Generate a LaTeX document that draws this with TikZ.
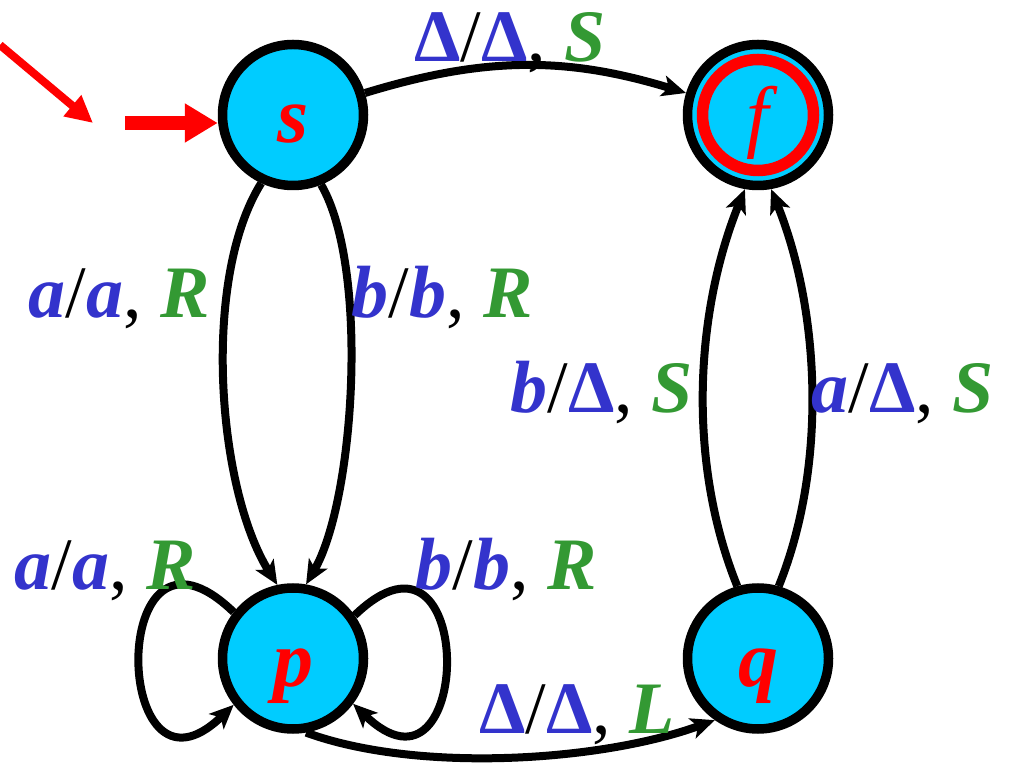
\documentclass[tikz,border=0pt]{standalone}
\usepackage{fontspec}
\setmainfont{Liberation Serif}
\usepackage{xcolor}
\usetikzlibrary{arrows.meta, positioning}
\definecolor{statefill}{RGB}{0, 204, 255}
\definecolor{symblue}{RGB}{51, 51, 204}
\definecolor{movegreen}{RGB}{51, 153, 51}
\newcommand{\tsym}[1]{\textcolor{symblue}{\bfseries\itshape #1}}
\newcommand{\tblank}{\textcolor{symblue}{\bfseries Δ}}
\newcommand{\tmove}[1]{\textcolor{movegreen}{\bfseries\itshape #1}}

\begin{document}
\begin{tikzpicture}[
  x=1pt, y=1pt,
  state/.style={circle, draw=black, line width=9.5pt, fill=statefill, minimum size=141pt, inner sep=0pt, text=red, font=\fontsize{80}{80}\selectfont\bfseries\itshape, text height=62pt, text depth=6pt},
  edge/.style={line width=8pt, -{Stealth[length=24pt, width=21pt, inset=6pt]}},
  lbl/.style={font=\fontsize{74}{80}\selectfont, anchor=base, inner sep=0pt},
  init/.style={red}
]
  \useasboundingbox (0,0) rectangle (1009,763);

  % Nodes
  \node[state] (s) at (293,648) {s};
  \node[state, right=314.5pt of s] (f) {\mdseries f};
  \node[state, below=393pt of s] (p) {p};
  \node[state, right=314.5pt of p] (q) {q};
  \draw[red, line width=11.5pt] (f.center) circle[radius=55.5pt];

  % Start arrows
  \coordinate (tail) at (0,718);
  \coordinate (head) at (93,640);
  \coordinate (init) at (125,640);
  \draw[init, line width=8pt, -{Triangle[length=27pt, width=26pt]}] (tail) -- (head);
  \draw[init, line width=14pt, -{Triangle[length=33pt, width=37pt]}] (init) -- (init -| s.west);

  % Paths
  \draw[edge] (s) to[bend left=17] (f);
  \draw[edge] (s.245) to[out=238, in=122, looseness=0.72] (p.102);
  \draw[edge] (s.292) to[out=300, in=60, looseness=0.62] (p.80);
  \draw[edge] (q.106) to[out=112, in=248, looseness=0.86] (f.260);
  \draw[edge] (q.74) to[out=68, in=292, looseness=0.84] (f.280);
  \draw[edge] (p.142) .. controls +(136:178) and +(224:170) .. (p.218);
  \draw[edge] (p.35) .. controls +(44:172) and +(316:168) .. (p.323);
  \draw[edge] (p.280) to[out=340, in=200, looseness=0.75] (q.235);

  % Labels
  \node[lbl] (lsf) at (510,701) {\tblank/\tblank, \tmove{S}};
  \node[lbl] (lsp1) at (119,445) {\tsym{a}/\tsym{a}, \tmove{R}};
  \node[lbl] (lsp2) at (442,445) {\tsym{b}/\tsym{b}, \tmove{R}};
  \node[lbl] (lqf1) at (602,350) {\tsym{b}/\tblank, \tmove{S}};
  \node[lbl] (lqf2) at (903,350) {\tsym{a}/\tblank, \tmove{S}};
  \node[lbl] (lpp1) at (105,173) {\tsym{a}/\tsym{a}, \tmove{R}};
  \node[lbl] (lpp2) at (506,173) {\tsym{b}/\tsym{b}, \tmove{R}};
  \node[lbl] (lpq) at (577,30) {\tblank/\tblank, \tmove{L}};
\end{tikzpicture}
\end{document}
